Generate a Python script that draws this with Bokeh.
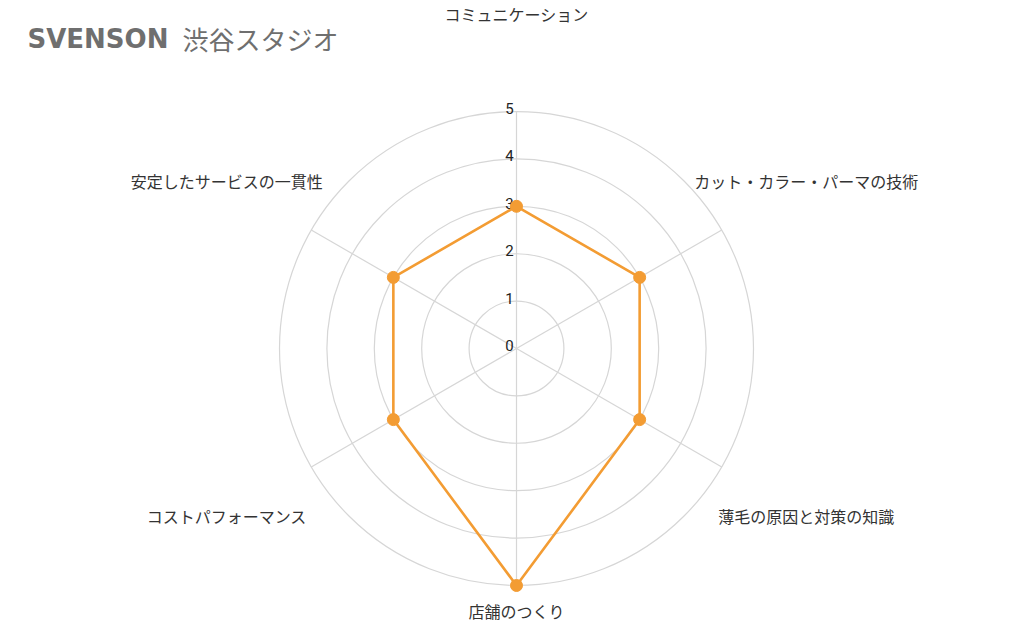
import numpy as np
from bokeh.plotting import figure
from bokeh.models import Range1d, Label
from bokeh.core.properties import value
from bokeh.embed import file_html
from bokeh.resources import INLINE

# ---- data ----
categories = ["コミュニケーション", "カット・カラー・パーマの技術", "薄毛の原因と対策の知識",
              "店舗のつくり", "コストパフォーマンス", "安定したサービスの一貫性"]
scores = [3, 3, 3, 5, 3, 3]
ticks = [0, 1, 2, 3, 4, 5]
title_main = "SVENSON"
title_sub = "渋谷スタジオ"

# ---- layout ----
W, H = 1008, 626
unit = 47.4              # pixels per score unit
cx_px, cy_px = 516, 348  # center in frame pixels
rmax = max(ticks)

p = figure(width=W, height=H, output_backend="svg", toolbar_location=None,
           min_border=0, outline_line_color=None, background_fill_color="white",
           border_fill_color="white")
p.x_range = Range1d(-cx_px / unit, (W - cx_px) / unit)
p.y_range = Range1d(-(H - cy_px) / unit, cy_px / unit)
p.axis.visible = False
p.grid.visible = False

grid_col = "#d6d6d6"
n = len(categories)
ang = np.pi / 2 - 2 * np.pi * np.arange(n) / n

# rings
for t in ticks[1:]:
    p.circle(x=0, y=0, radius=t, fill_color=None, line_color=grid_col, line_width=1.2)
# spokes
p.segment(x0=np.zeros(n), y0=np.zeros(n), x1=rmax * np.cos(ang), y1=rmax * np.sin(ang),
          line_color=grid_col, line_width=1.2)

# tick labels
p.text(x=np.zeros(len(ticks)), y=np.array(ticks, dtype=float), text=[str(t) for t in ticks],
       text_font=value("Roboto"), text_font_size="15px", text_color="#222222",
       text_align="center", text_baseline="alphabetic", x_offset=-7, y_offset=-3)

# data polygon
vals = np.array(scores, dtype=float)
xs = vals * np.cos(ang)
ys = vals * np.sin(ang)
p.line(x=list(xs) + [xs[0]], y=list(ys) + [ys[0]], line_color="#f39c33", line_width=2.6)
p.scatter(x=xs, y=ys, size=12, fill_color="#f39c33", line_color="#f39c33")

# category labels
lab_r = np.where(np.isclose(np.cos(ang), 0) & (np.sin(ang) < 0), 5.53, 7.06)
p.text(x=lab_r * np.cos(ang), y=lab_r * np.sin(ang), text=categories,
       text_font=value("Noto Sans CJK JP"), text_font_size="16px", text_color="#333333",
       text_align="center", text_baseline="middle")

# title
p.add_layout(Label(x=27, y=H - 38, x_units="screen", y_units="screen", text=title_main,
                   text_font="DejaVu Sans", text_font_style="bold", text_font_size="26px",
                   text_color="#6f6f6f", text_baseline="middle", text_align="left"))
p.add_layout(Label(x=182, y=H - 38, x_units="screen", y_units="screen", text=title_sub,
                   text_font="Noto Sans CJK JP", text_font_size="26px",
                   text_color="#6f6f6f", text_baseline="middle", text_align="left"))

open("out.html", "w").write(file_html(p, INLINE))
